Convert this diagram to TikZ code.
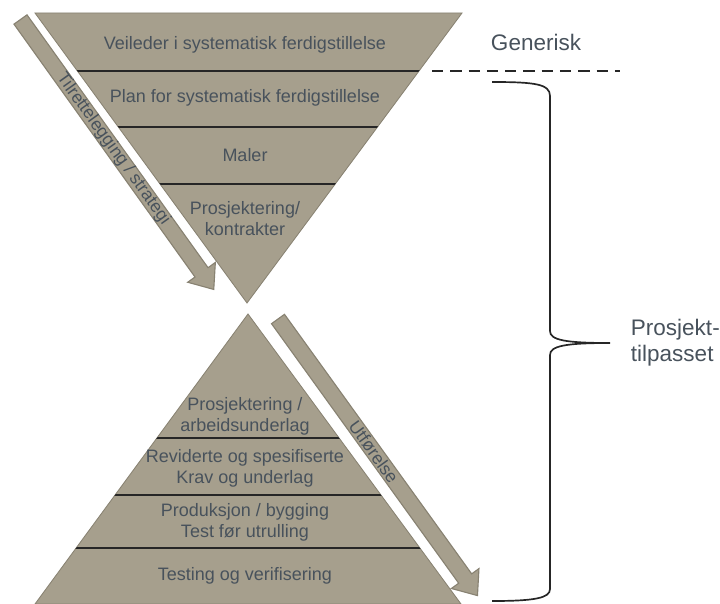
\documentclass[tikz,border=0pt]{standalone}
\usepackage{fontspec}
\setmainfont{Liberation Sans}
\definecolor{taupe}{RGB}{166,159,141}
\definecolor{kant}{RGB}{136,130,114}
\definecolor{tekst}{RGB}{72,82,92}
\definecolor{strek}{RGB}{38,38,38}
% block arrow: start x, start y, angle, length, name, text
\newcommand{\pil}[6]{
\begin{scope}[shift={(#1,#2)},rotate=#3]
\draw[kant,fill=taupe,line width=0.8pt] (0,-8)--(#4-21,-8)--(#4-21,-17)--(#4,0)--(#4-21,17)--(#4-21,8)--(0,8)--cycle;
\node[pilskrift,rotate=#3] (#5) at (#4*0.48,0) {#6};
\end{scope}}

\begin{document}
\begin{tikzpicture}[x=0.025cm,y=-0.025cm,
  lag/.style={text=tekst,align=center,font=\fontsize{12.8}{14.9}\selectfont},
  pilskrift/.style={text=tekst,font=\fontsize{12.5}{14}\selectfont},
  merke/.style={text=tekst,align=left,font=\fontsize{16}{18.5}\selectfont},
  skille/.style={strek,line width=1.3pt}]
\useasboundingbox (0,0) rectangle (720,603);
% upper triangle
\draw[kant,fill=taupe,line width=0.6pt] (35,13)--(462,13)--(247,303)--cycle;
\begin{scope}
\clip (35,13)--(462,13)--(247,303)--cycle;
\foreach \y in {71,127,184}{
	\draw[skille] (0,\y)--(500,\y);
}
\end{scope}
% lower triangle
\draw[kant,fill=taupe,line width=0.6pt] (248,314)--(461,604)--(35,604)--cycle;
\begin{scope}
\clip (248,314)--(461,604)--(35,604)--cycle;
\foreach \y in {438,495,548}{
	\draw[skille] (0,\y)--(500,\y);
}
\end{scope}
% arrows
\pil{20.5}{19.5}{-54.4}{332}{tilrettelegging}{Tilrettelegging / strategi}
\pil{278}{319}{-54.2}{341}{utforelse}{Utførelse}
% texts
\node[lag] (veileder) at (245,45) {Veileder i systematisk ferdigstillelse};
\node[lag] (plan) at (245,98) {Plan for systematisk ferdigstillelse};
\node[lag] (maler) at (245,155) {Maler};
\node[lag] (kontrakter) at (245,219) {Prosjektering/\\kontrakter};
\node[lag] (arbeid) at (245,416.5) {Prosjektering /\\arbeidsunderlag};
\node[lag] (krav) at (245,468) {Reviderte og spesifiserte\\Krav og underlag};
\node[lag] (produksjon) at (245,522.5) {Produksjon / bygging\\Test før utrulling};
\node[lag] (testing) at (245,576) {Testing og verifisering};
% right side
\node[merke] (generisk) at (536,42) {Generisk};
\draw[strek,line width=1.2pt,dash pattern=on 8pt off 5pt] (432,71)--(620,71);
\draw[strek,line width=1.2pt] (492,82) .. controls (535,82) and (550,84) .. (550,96)
  -- (550,331) .. controls (550,340) and (565,343) .. (610,343)
  .. controls (565,343) and (550,346) .. (550,355)
  -- (550,589) .. controls (550,598) and (535,601) .. (492,601);
\coordinate (spiss) at (610,343);
\node[merke,anchor=west] (tilpasset) at ([xshift=0.4cm]spiss) {Prosjekt-\\tilpasset};
\end{tikzpicture}
\end{document}
